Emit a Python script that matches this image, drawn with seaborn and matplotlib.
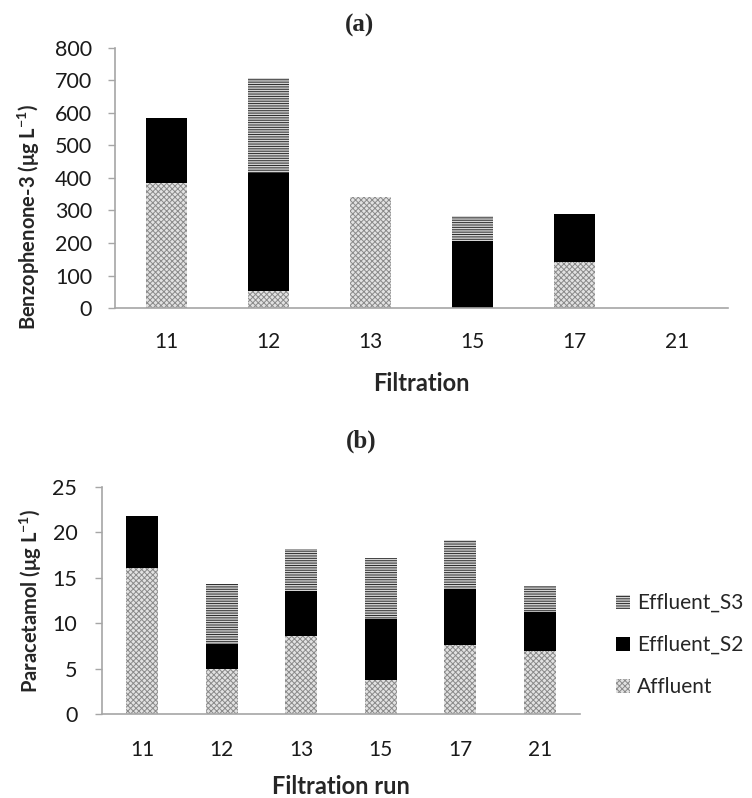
import numpy as np
import pandas as pd
import matplotlib
matplotlib.use('Agg')
import matplotlib.pyplot as plt
import seaborn as sns
from matplotlib.patches import Patch

# данные
runs = ['11', '12', '13', '15', '17', '21']

bp3_affluent = [385, 52, 342, 0, 142, 0]
bp3_s2 = [200, 363, 0, 206, 147, 0]
bp3_s3 = [0, 293, 0, 77, 0, 0]

par_affluent = [16.1, 5.0, 8.6, 3.8, 7.6, 7.0]
par_s2 = [5.7, 2.7, 4.9, 6.7, 6.2, 4.2]
par_s3 = [0.0, 6.6, 4.7, 6.7, 5.3, 2.9]

sns.set_style('white')
plt.rcParams['font.family'] = ['Lato', 'DejaVu Sans']
plt.rcParams['mathtext.fontset'] = 'custom'
plt.rcParams['mathtext.rm'] = 'Lato'
plt.rcParams['mathtext.bf'] = 'Lato:bold'
plt.rcParams['hatch.linewidth'] = 0.7

STYLES = {
    'Affluent': dict(fc='#e2e2e2', hc='#8a8a8a', hatch='xxxxxx'),
    'Effluent_S2': dict(fc='black', hc='black', hatch=None),
    'Effluent_S3': dict(fc='#d4d4d4', hc='#2a2a2a', hatch='-------'),
}
AXIS_GREY = '#a6a6a6'


def stacked(ax, aff, s2, s3, ymax, ystep, ylabel, xlabel, ypad, xpad, ylabelpad, xlabelpad):
    df = pd.DataFrame({'run': runs, 'Affluent': aff, 'Effluent_S2': s2, 'Effluent_S3': s3})
    df['cum_s2'] = df['Affluent'] + df['Effluent_S2']
    df['cum_s3'] = df['cum_s2'] + df['Effluent_S3']

    # рисуем накопленные суммы сверху вниз, нижние слои перекрывают верхние
    layers = [('cum_s3', 'Effluent_S3'), ('cum_s2', 'Effluent_S2'), ('Affluent', 'Affluent')]
    for col, name in layers:
        st = STYLES[name]
        n_before = len(ax.patches)
        sns.barplot(data=df, x='run', y=col, order=runs, ax=ax, width=0.4,
                    color=st['fc'], saturation=1, errorbar=None)
        for p in ax.patches[n_before:]:
            p.set_facecolor(st['fc'])
            p.set_edgecolor(st['hc'])
            p.set_linewidth(0)
            if st['hatch']:
                p.set_hatch(st['hatch'])

    ax.set_ylim(0, ymax)
    ax.set_yticks(np.arange(0, ymax + ystep / 2, ystep))
    ax.set_xlim(-0.5, len(runs) - 0.5)
    ax.set_xticks(np.arange(-0.5, len(runs), 1), minor=True)
    ax.tick_params(axis='x', which='major', length=0, pad=xpad, labelsize=15, colors='#1a1a1a')
    ax.tick_params(axis='x', which='minor', length=5, width=1, color=AXIS_GREY, direction='out')
    ax.tick_params(axis='y', length=5, width=1, direction='out', color=AXIS_GREY,
                   pad=ypad, labelsize=15.5, labelcolor='#1a1a1a', left=True)
    for s in ['top', 'right']:
        ax.spines[s].set_visible(False)
    for s in ['left', 'bottom']:
        ax.spines[s].set_color(AXIS_GREY)
        ax.spines[s].set_linewidth(1.2)
    ax.set_ylabel(ylabel, fontsize=14.5, fontweight='bold', labelpad=ylabelpad)
    ax.set_xlabel(xlabel, fontsize=17, fontweight='bold', labelpad=xlabelpad)


fig = plt.figure(figsize=(7.52, 7.98), dpi=100)
ax1 = fig.add_axes([0.153, 0.614, 0.815, 0.326])
ax2 = fig.add_axes([0.136, 0.105, 0.635, 0.285])

stacked(ax1, bp3_affluent, bp3_s2, bp3_s3, 800, 100,
        r'Benzophenone-3 (μg L$^{\mathbf{-1}}$)', 'Filtration', 11.5, 17.5, 9, 14)
stacked(ax2, par_affluent, par_s2, par_s3, 25, 5,
        r'Paracetamol (μg L$^{\mathbf{-1}}$)', 'Filtration run', 13, 18.5, 6, 11)

# подпись оси (a) в оригинале сдвинута вниз
ax1.yaxis.label.set_y(0.35)

fig.text(360 / 752, 1 - 25 / 798, '(a)', ha='center', va='center',
         family='Liberation Serif', fontweight='bold', fontsize=18)
fig.text(361 / 752, 1 - 441 / 798, '(b)', ha='center', va='center',
         family='Liberation Serif', fontweight='bold', fontsize=18)

handles = []
for name in ['Effluent_S3', 'Effluent_S2', 'Affluent']:
    st = STYLES[name]
    handles.append(Patch(facecolor=st['fc'], edgecolor=st['hc'], hatch=st['hatch'],
                         linewidth=0, label=name))
fig.legend(handles=handles, loc='center left', bbox_to_anchor=(616 / 752, 1 - 645 / 798),
           frameon=False, fontsize=15, handlelength=0.65, handleheight=0.65,
           handletextpad=0.35, labelspacing=1.05, borderaxespad=0, borderpad=0)

plt.savefig('out.png', dpi=100)
